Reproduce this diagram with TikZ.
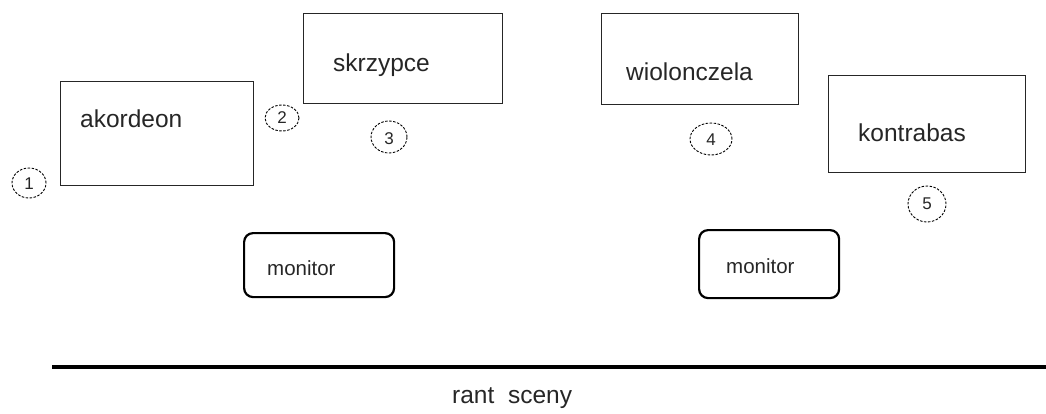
\documentclass[tikz,border=0pt]{standalone}
\usepackage{fontspec}
\usetikzlibrary{shapes.geometric}
\setmainfont{Liberation Sans}
\begin{document}
\begin{tikzpicture}[x=1pt,y=-1pt,
  instr/.style={draw=black!85,line width=1.3pt,rectangle,inner sep=0pt,anchor=north west},
  mon/.style={draw=black,line width=2.2pt,rectangle,rounded corners=9pt,inner sep=0pt,anchor=north west},
  lab/.style={font=\fontsize{24.5}{28}\selectfont,text=black!85,anchor=base west,inner sep=0pt},
  monlab/.style={font=\fontsize{20.5}{24}\selectfont,text=black!85,anchor=base west,inner sep=0pt},
  num/.style={draw=black,dash pattern=on 2.5pt off 1.5pt,line width=0.9pt,ellipse,inner sep=0pt,font=\fontsize{17}{19}\selectfont,text=black!85,text depth=0pt},
  stage/.style={line width=4pt,draw=black}]
\useasboundingbox (0,0) rectangle (1046,414);
% instrument boxes
\node[instr,minimum width=193pt,minimum height=104pt] (akb) at (60,81) {};
\node[lab] (akt) at (80,128) {akordeon};
\node[instr,minimum width=199pt,minimum height=90pt] (skb) at (303,13) {};
\node[lab] (skt) at (333,72) {skrzypce};
\node[instr,minimum width=197pt,minimum height=91pt] (wib) at (601,13) {};
\node[lab] (wit) at (626,81) {wiolonczela};
\node[instr,minimum width=197pt,minimum height=97pt] (kob) at (828,75) {};
\node[lab] (kot) at (858,142) {kontrabas};
% monitors
\node[mon,minimum width=150pt,minimum height=64pt] (m1) at (243,232) {};
\node[monlab] (m1t) at (267,275) {monitor};
\node[mon,minimum width=140pt,minimum height=68pt] (m2) at (698,229) {};
\node[monlab] (m2t) at (726,273) {monitor};
% numbered positions
\node[num,minimum width=34pt,minimum height=30pt] (n1) at (29,183) {\raisebox{-2pt}{1}};
\node[num,minimum width=34pt,minimum height=26pt] (n2) at (282,118) {2};
\node[num,minimum width=36pt,minimum height=32pt] (n3) at (389,137) {\raisebox{-3pt}{3}};
\node[num,minimum width=42pt,minimum height=32pt] (n4) at (711,139) {\raisebox{-1pt}{4}};
\node[num,minimum width=38pt,minimum height=36pt] (n5) at (927,204) {5};
% stage edge
\coordinate (sl) at (52,367);
\coordinate (sr) at (1046,367);
\draw[stage] (sl) -- (sr);
\node[lab] (rs) at (452,403) {rant\ \ sceny};
\end{tikzpicture}
\end{document}
